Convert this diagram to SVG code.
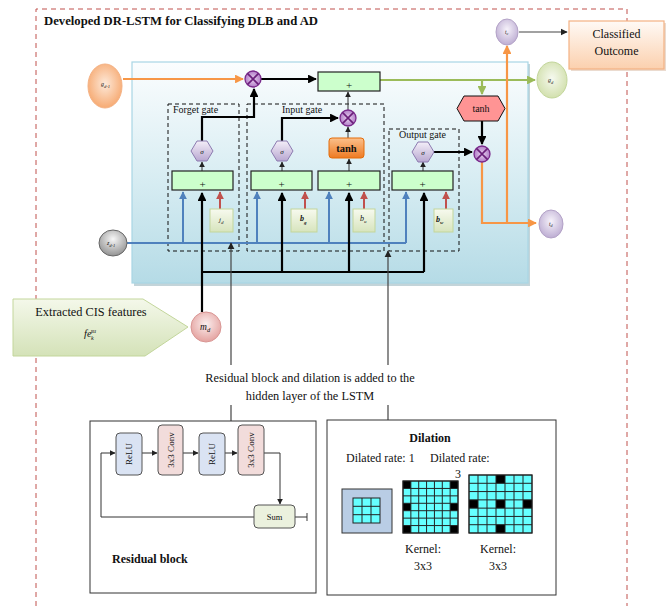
<svg xmlns="http://www.w3.org/2000/svg" xmlns:xlink="http://www.w3.org/1999/xlink" width="670" height="606" viewBox="0 0 670 606">
  <defs>
    <style>
      .t { font-family: "Liberation Serif", "Times New Roman", serif; fill: #111; }
      .b { font-weight: bold; }
      .it { font-style: italic; }
      .gate { fill: none; stroke: #111; stroke-width: 1; stroke-dasharray: 4 3; }
      .plus { fill: #ccffcc; stroke: #222; stroke-width: 1.2; }
      .bias { fill: url(#gBias); stroke: #c3d69b; stroke-width: 1; }
      .sig { fill: url(#gSig); stroke: #8c7bb0; stroke-width: 1; }
      .thick { fill: none; stroke: #000; stroke-width: 2.2; }
      .thin { fill: none; stroke: #333; stroke-width: 1; }
      .blue { fill: none; stroke: #4f81bd; stroke-width: 2; }
      .red { fill: none; stroke: #c0504d; stroke-width: 2; }
      .orange { fill: none; stroke: #f79646; stroke-width: 2.2; }
      .green { fill: none; stroke: #9bbb59; stroke-width: 2.2; }
      .gray { fill: none; stroke: #444; stroke-width: 1.2; }
      .cell { fill: #66ffff; stroke: #222; stroke-width: 1; }
    </style>
    <linearGradient id="gPanel" x1="0" y1="0" x2="0" y2="1">
      <stop offset="0" stop-color="#fbfdfe"/>
      <stop offset="0.55" stop-color="#d6ecf2"/>
      <stop offset="1" stop-color="#b5dbe6"/>
    </linearGradient>
    <linearGradient id="gBias" x1="0" y1="0" x2="0" y2="1">
      <stop offset="0" stop-color="#f7faef"/>
      <stop offset="1" stop-color="#d7e4bd"/>
    </linearGradient>
    <linearGradient id="gSig" x1="0" y1="0" x2="0" y2="1">
      <stop offset="0" stop-color="#f3eef8"/>
      <stop offset="1" stop-color="#b9a8d1"/>
    </linearGradient>
    <linearGradient id="gTanhBox" x1="0" y1="0" x2="0" y2="1">
      <stop offset="0" stop-color="#fbc08c"/>
      <stop offset="1" stop-color="#ee7a22"/>
    </linearGradient>
    <linearGradient id="gOut" x1="0" y1="0" x2="0" y2="1">
      <stop offset="0" stop-color="#fffaf6"/>
      <stop offset="1" stop-color="#fbd0ae"/>
    </linearGradient>
    <linearGradient id="gCis" x1="0" y1="0" x2="0" y2="1">
      <stop offset="0" stop-color="#f4f8ea"/>
      <stop offset="1" stop-color="#d4e2b8"/>
    </linearGradient>
    <radialGradient id="gOrange" cx="0.5" cy="0.45" r="0.6">
      <stop offset="0" stop-color="#fde9d9"/>
      <stop offset="1" stop-color="#f6a56a"/>
    </radialGradient>
    <radialGradient id="gGreen" cx="0.5" cy="0.45" r="0.6">
      <stop offset="0" stop-color="#f6f9ef"/>
      <stop offset="1" stop-color="#cfdea8"/>
    </radialGradient>
    <radialGradient id="gLav" cx="0.5" cy="0.4" r="0.65">
      <stop offset="0" stop-color="#f6f2fa"/>
      <stop offset="1" stop-color="#b8a7cf"/>
    </radialGradient>
    <radialGradient id="gGray" cx="0.5" cy="0.35" r="0.7">
      <stop offset="0" stop-color="#f7f7f7"/>
      <stop offset="1" stop-color="#8a8a8a"/>
    </radialGradient>
    <radialGradient id="gPink" cx="0.5" cy="0.4" r="0.65">
      <stop offset="0" stop-color="#fbeeee"/>
      <stop offset="1" stop-color="#e29b98"/>
    </radialGradient>
    <radialGradient id="gMul" cx="0.5" cy="0.5" r="0.6">
      <stop offset="0" stop-color="#e9d3f0"/>
      <stop offset="1" stop-color="#a66bbf"/>
    </radialGradient>
    <g id="mul">
      <circle r="8" fill="url(#gMul)" stroke="#7a2a8c" stroke-width="1.3"/>
      <path d="M-5.6,-5.6 L5.6,5.6 M5.6,-5.6 L-5.6,5.6" stroke="#6a1f7a" stroke-width="1.6"/>
    </g>
    <marker id="aK" viewBox="0 0 10 10" refX="9" refY="5" markerWidth="4" markerHeight="4" orient="auto" markerUnits="strokeWidth">
      <path d="M0,0 L10,5 L0,10 z" fill="#000"/>
    </marker>
    <marker id="aT" viewBox="0 0 10 10" refX="9" refY="5" markerWidth="6" markerHeight="6" orient="auto" markerUnits="strokeWidth">
      <path d="M0,0 L10,5 L0,10 z" fill="#222"/>
    </marker>
    <marker id="aB" viewBox="0 0 10 10" refX="9" refY="5" markerWidth="4" markerHeight="4" orient="auto" markerUnits="strokeWidth">
      <path d="M0,0 L10,5 L0,10 z" fill="#4f81bd"/>
    </marker>
    <marker id="aR" viewBox="0 0 10 10" refX="9" refY="5" markerWidth="4" markerHeight="4" orient="auto" markerUnits="strokeWidth">
      <path d="M0,0 L10,5 L0,10 z" fill="#c0504d"/>
    </marker>
    <marker id="aO" viewBox="0 0 10 10" refX="9" refY="5" markerWidth="4" markerHeight="4" orient="auto" markerUnits="strokeWidth">
      <path d="M0,0 L10,5 L0,10 z" fill="#f79646"/>
    </marker>
    <marker id="aG" viewBox="0 0 10 10" refX="9" refY="5" markerWidth="4" markerHeight="4" orient="auto" markerUnits="strokeWidth">
      <path d="M0,0 L10,5 L0,10 z" fill="#9bbb59"/>
    </marker>
    <marker id="bar" viewBox="0 0 4 10" refX="2" refY="5" markerWidth="4" markerHeight="8" orient="auto" markerUnits="userSpaceOnUse">
      <path d="M2,0 L2,10" stroke="#333" stroke-width="1.2"/>
    </marker>
  </defs>

  <rect width="670" height="606" fill="#fff"/>

  <!-- outer frame -->
  <path d="M36,606 L36,9 L627,9 L627,606" fill="none" stroke="#c0504d" stroke-width="1" stroke-dasharray="5 4"/>
  <text class="t b" x="44" y="25" font-size="12.7">Developed DR-LSTM for Classifying DLB and AD</text>

  <!-- LSTM cell panel -->
  <g id="panel">
    <rect x="134" y="64" width="396" height="222" fill="#9bb7c0" opacity="0.6"/>
    <rect x="132" y="62" width="396" height="221" fill="url(#gPanel)" stroke="#a9d6e4" stroke-width="1.2"/>
  </g>

  <!-- gate regions -->
  <g id="forget-gate">
    <rect class="gate" x="168" y="104" width="71" height="147"/>
    <text class="t" x="173" y="113" font-size="10">Forget gate</text>
  </g>
  <g id="input-gate">
    <rect class="gate" x="247" y="104" width="137" height="147"/>
    <text class="t" x="282" y="113" font-size="10">Input gate</text>
  </g>
  <g id="output-gate">
    <rect class="gate" x="389" y="129" width="70" height="122"/>
    <text class="t" x="399" y="138" font-size="10">Output gate</text>
  </g>

  <!-- connectors -->
  <g id="connectors">
    <!-- cell state path -->
    <path class="orange" d="M123,79 L243,79" marker-end="url(#aO)"/>
    <path class="thick" d="M261,79 L316,79" marker-end="url(#aK)"/>
    <path class="green" d="M380,80 L535,80" marker-end="url(#aG)"/>
    <path class="green" d="M482,80 L482,94" marker-end="url(#aG)"/>
    <path class="thick" d="M482,121 L482,144" marker-end="url(#aK)"/>
    <path class="orange" d="M482,162 L482,223 L536,223" marker-end="url(#aO)"/>
    <path class="orange" d="M507,223 L507,46" marker-end="url(#aO)"/>
    <path class="gray" d="M519,32 L567,32" marker-end="url(#aT)"/>

    <!-- gate outputs -->
    <path class="thick" d="M202,141 L202,117 L254,117 L254,89" marker-end="url(#aK)"/>
    <path class="thick" d="M282,141 L282,118 L338,118" marker-end="url(#aK)"/>
    <path class="thin" d="M348,138 L348,127" marker-end="url(#aT)"/>
    <path class="thin" d="M348,110 L348,92" marker-end="url(#aT)"/>
    <path class="thick" d="M434,152 L472,152" marker-end="url(#aK)"/>
    <path class="thin" d="M202,171 L202,162" marker-end="url(#aT)"/>
    <path class="thin" d="M282,171 L282,162" marker-end="url(#aT)"/>
    <path class="thin" d="M349,171 L349,159" marker-end="url(#aT)"/>
    <path class="thin" d="M423,171 L423,162" marker-end="url(#aT)"/>

    <!-- previous hidden state -->
    <path class="blue" d="M127,243 L406,243"/>
    <path class="blue" d="M183,243 L183,192" marker-end="url(#aB)"/>
    <path class="blue" d="M257,243 L257,192" marker-end="url(#aB)"/>
    <path class="blue" d="M329,243 L329,192" marker-end="url(#aB)"/>
    <path class="blue" d="M406,243 L406,192" marker-end="url(#aB)"/>

    <!-- biases -->
    <path class="red" d="M220,209 L220,192" marker-end="url(#aR)"/>
    <path class="red" d="M305,209 L305,192" marker-end="url(#aR)"/>
    <path class="red" d="M364,209 L364,192" marker-end="url(#aR)"/>
    <path class="red" d="M446,209 L446,192" marker-end="url(#aR)"/>

    <!-- input features bus -->
    <path class="thick" d="M202,312 L202,193" marker-end="url(#aK)"/>
    <path class="thick" d="M202,272 L424,272"/>
    <path class="thick" d="M282,272 L282,193" marker-end="url(#aK)"/>
    <path class="thick" d="M349,272 L349,193" marker-end="url(#aK)"/>
    <path class="thick" d="M424,272 L424,193" marker-end="url(#aK)"/>

    <!-- residual / dilation links -->
    <path class="gray" d="M231,365 L231,243" marker-end="url(#aT)"/>
    <path class="gray" d="M388,365 L388,251" marker-end="url(#aT)"/>
    <path class="gray" d="M231,405 L231,421"/>
    <path class="gray" d="M388,405 L388,420"/>
  </g>

  <!-- cell state multiply / add -->
  <g id="mul-forget"><use href="#mul" x="253" y="79"/></g>
  <g id="add-cell">
    <rect class="plus" x="318" y="72" width="62" height="19"/>
    <text class="t" x="349" y="89" font-size="11" text-anchor="middle">+</text>
  </g>
  <g id="mul-input"><use href="#mul" x="348" y="118"/></g>
  <g id="mul-output"><use href="#mul" x="482" y="154"/></g>

  <g id="tanh-cell">
    <polygon points="457,108.5 464,96 498,96 505,108.5 498,121 464,121" fill="#ff9494" stroke="#111" stroke-width="1"/>
    <text class="t" x="481" y="112" font-size="10" text-anchor="middle">tanh</text>
  </g>

  <!-- sigmoid units -->
  <g id="sigma-forget">
    <polygon class="sig" points="191,151 197,141 207,141 213,151 207,161 197,161"/>
    <text class="t it" x="202" y="154" font-size="7" text-anchor="middle">σ</text>
  </g>
  <g id="sigma-input">
    <polygon class="sig" points="271,151 277,141 287,141 293,151 287,161 277,161"/>
    <text class="t it" x="282" y="154" font-size="7" text-anchor="middle">σ</text>
  </g>
  <g id="sigma-output">
    <polygon class="sig" points="412,152 418,142 428,142 434,152 428,162 418,162"/>
    <text class="t it" x="423" y="155" font-size="7" text-anchor="middle">σ</text>
  </g>
  <g id="tanh-input">
    <rect x="329" y="138" width="35" height="20" rx="3" fill="url(#gTanhBox)" stroke="#e46c0a" stroke-width="1"/>
    <text class="t b" x="346.5" y="152" font-size="10.5" text-anchor="middle" fill="#3a2010">tanh</text>
  </g>

  <!-- summation boxes -->
  <g id="add-forget">
    <rect class="plus" x="172" y="171" width="61" height="19"/>
    <text class="t" x="202.5" y="188" font-size="11" text-anchor="middle">+</text>
  </g>
  <g id="add-input">
    <rect class="plus" x="251" y="171" width="61" height="19"/>
    <text class="t" x="281.5" y="188" font-size="11" text-anchor="middle">+</text>
  </g>
  <g id="add-candidate">
    <rect class="plus" x="318" y="171" width="62" height="19"/>
    <text class="t" x="349" y="188" font-size="11" text-anchor="middle">+</text>
  </g>
  <g id="add-output">
    <rect class="plus" x="392" y="171" width="61" height="19"/>
    <text class="t" x="422.5" y="188" font-size="11" text-anchor="middle">+</text>
  </g>

  <!-- biases -->
  <g id="bias-j">
    <rect class="bias" x="210" y="209" width="23" height="23"/>
    <text class="t it" x="219" y="222" font-size="7">j<tspan font-size="5" dy="1.5">d</tspan></text>
  </g>
  <g id="bias-bg">
    <rect class="bias" x="291" y="209" width="26" height="23"/>
    <text class="t it b" x="300" y="221" font-size="8">b<tspan font-size="5" dy="3">g</tspan></text>
  </g>
  <g id="bias-bu">
    <rect class="bias" x="353" y="209" width="22" height="23"/>
    <text class="t it" x="360" y="221" font-size="8">b<tspan font-size="5" dy="2">u</tspan></text>
  </g>
  <g id="bias-bw">
    <rect class="bias" x="434" y="209" width="19" height="23"/>
    <text class="t it b" x="436" y="222" font-size="8">b<tspan font-size="5" dy="1.5">w</tspan></text>
  </g>

  <!-- state nodes -->
  <g id="g-prev">
    <ellipse cx="105" cy="86" rx="17" ry="22" fill="url(#gOrange)" stroke="#f4b183" stroke-width="1"/>
    <text class="t it" x="101" y="86" font-size="6" fill="#555">g<tspan font-size="4.5" dy="1.5">d-1</tspan></text>
  </g>
  <g id="g-next">
    <ellipse cx="552" cy="80" rx="15" ry="18" fill="url(#gGreen)" stroke="#c3d69b" stroke-width="1"/>
    <text class="t it" x="548" y="82" font-size="6" fill="#555">g<tspan font-size="4.5" dy="1.5">d</tspan></text>
  </g>
  <g id="t-c">
    <ellipse cx="507" cy="32" rx="11" ry="13" fill="url(#gLav)" stroke="#b3a2c7" stroke-width="1"/>
    <text class="t it" x="505" y="34" font-size="5.5" fill="#555">t<tspan font-size="4" dy="1.2">c</tspan></text>
  </g>
  <g id="t-d">
    <ellipse cx="551" cy="224" rx="12" ry="14" fill="url(#gLav)" stroke="#b3a2c7" stroke-width="1"/>
    <text class="t it" x="549" y="226" font-size="5.5" fill="#555">t<tspan font-size="4" dy="1.2">d</tspan></text>
  </g>
  <g id="z-prev">
    <ellipse cx="113" cy="243" rx="14" ry="13" fill="url(#gGray)" stroke="#666" stroke-width="1"/>
    <text class="t it" x="107" y="245" font-size="6" fill="#333">z<tspan font-size="4.5" dy="1.5">d-1</tspan></text>
  </g>
  <g id="m-d">
    <circle cx="206" cy="327" r="15" fill="url(#gPink)" stroke="#d99694" stroke-width="1"/>
    <text class="t it" x="200" y="330" font-size="9.5" fill="#222">m<tspan font-size="6.5" dy="2">d</tspan></text>
  </g>

  <g id="classified-outcome">
    <rect x="571" y="23" width="95" height="48" fill="#d8b8a0" opacity="0.5"/>
    <rect x="569" y="21" width="95" height="48" fill="url(#gOut)" stroke="#f4b183" stroke-width="1.2"/>
    <text class="t" x="616.5" y="38" font-size="12" text-anchor="middle">Classified</text>
    <text class="t" x="616.5" y="55" font-size="12" text-anchor="middle">Outcome</text>
  </g>

  <g id="cis-features">
    <polygon points="13,299 143,299 188,327 145,356 13,356" fill="url(#gCis)" stroke="#c3d69b" stroke-width="1"/>
    <text class="t" x="91" y="316" font-size="12.3" text-anchor="middle">Extracted CIS features</text>
    <text class="t it" x="84" y="337" font-size="10.5">fe<tspan font-size="6" dy="3" dx="-0.5">k</tspan><tspan font-size="6" dy="-7" dx="-3">su</tspan></text>
  </g>

  <!-- caption -->
  <g id="caption">
    <text class="t" x="310" y="382" font-size="12.3" text-anchor="middle">Residual block and dilation is added to the</text>
    <text class="t" x="310" y="400" font-size="12.3" text-anchor="middle">hidden layer of the LSTM</text>
  </g>

  <!-- residual block -->
  <g id="residual-block">
    <rect x="90" y="421" width="226" height="172" fill="#fff" stroke="#333" stroke-width="1"/>
    <g id="res-arrows">
      <path class="thin" d="M101,453 L115,453" marker-end="url(#aT)"/>
      <path class="thin" d="M142,453 L157,453" marker-end="url(#aT)"/>
      <path class="thin" d="M183,453 L198,453" marker-end="url(#aT)"/>
      <path class="thin" d="M225,453 L237,453" marker-end="url(#aT)"/>
      <path class="thin" d="M264,453 L280,453 L280,504" marker-end="url(#aT)"/>
      <path class="thin" d="M254,517 L101,517 L101,453"/>
      <path class="thin" d="M295,517 L307,517" marker-end="url(#bar)"/>
    </g>
    <g id="relu-1">
      <rect x="116" y="433" width="26" height="42" rx="4" fill="#dae3f3" stroke="#555" stroke-width="1"/>
      <text class="t" font-size="9" text-anchor="middle" transform="translate(132,454) rotate(-90)">ReLU</text>
    </g>
    <g id="conv-1">
      <rect x="158" y="425" width="25" height="50" rx="4" fill="#f2dcdb" stroke="#555" stroke-width="1"/>
      <text class="t" font-size="9" text-anchor="middle" transform="translate(173.5,450) rotate(-90)">3x3 Conv</text>
    </g>
    <g id="relu-2">
      <rect x="199" y="433" width="26" height="42" rx="4" fill="#dae3f3" stroke="#555" stroke-width="1"/>
      <text class="t" font-size="9" text-anchor="middle" transform="translate(215,454) rotate(-90)">ReLU</text>
    </g>
    <g id="conv-2">
      <rect x="238" y="425" width="26" height="50" rx="4" fill="#f2dcdb" stroke="#555" stroke-width="1"/>
      <text class="t" font-size="9" text-anchor="middle" transform="translate(254,450) rotate(-90)">3x3 Conv</text>
    </g>
    <g id="sum">
      <rect x="254" y="505" width="41" height="23" rx="4" fill="#ebf1de" stroke="#555" stroke-width="1"/>
      <text class="t" x="274.5" y="520" font-size="8.5" text-anchor="middle">Sum</text>
    </g>
    <text class="t b" x="112" y="563" font-size="12">Residual block</text>
  </g>

  <!-- dilation -->
  <g id="dilation">
    <rect x="327" y="420" width="229" height="175" fill="#fff" stroke="#333" stroke-width="1"/>
    <text class="t b" x="430" y="442" font-size="12" text-anchor="middle">Dilation</text>
    <text class="t" x="346" y="462" font-size="12">Dilated rate: 1</text>
    <text class="t" x="430" y="462" font-size="12">Dilated rate:</text>
    <text class="t" x="455" y="478" font-size="12">3</text>

    <g id="grid-rate1">
      <rect x="342" y="489" width="50" height="44" fill="#b9cde5" stroke="#333" stroke-width="1"/>
      <rect class="cell" x="353" y="498" width="27" height="25"/>
      <path d="M362,498 V523 M371,498 V523 M353,506.3 H380 M353,514.7 H380" stroke="#222" stroke-width="1"/>
    </g>

    <g id="grid-rate2">
      <rect class="cell" x="403" y="481" width="55" height="52"/>
      <g fill="#000">
        <rect x="403" y="481" width="7.86" height="7.43"/>
        <rect x="450.14" y="481" width="7.86" height="7.43"/>
        <rect x="403" y="503.29" width="7.86" height="7.43"/>
        <rect x="450.14" y="503.29" width="7.86" height="7.43"/>
        <rect x="403" y="525.57" width="7.86" height="7.43"/>
        <rect x="450.14" y="525.57" width="7.86" height="7.43"/>
      </g>
      <path d="M410.86,481 V533 M418.71,481 V533 M426.57,481 V533 M434.43,481 V533 M442.29,481 V533 M450.14,481 V533 M403,488.43 H458 M403,495.86 H458 M403,503.29 H458 M403,510.71 H458 M403,518.14 H458 M403,525.57 H458" stroke="#222" stroke-width="1"/>
      <rect x="403" y="481" width="55" height="52" fill="none" stroke="#222" stroke-width="1"/>
    </g>

    <g id="grid-rate3">
      <rect class="cell" x="469" y="475" width="63" height="58"/>
      <g fill="#000">
        <rect x="496" y="475" width="9" height="8.29"/>
        <rect x="469" y="499.86" width="9" height="8.29"/>
        <rect x="496" y="499.86" width="9" height="8.29"/>
        <rect x="523" y="499.86" width="9" height="8.29"/>
        <rect x="496" y="524.71" width="9" height="8.29"/>
      </g>
      <path d="M478,475 V533 M487,475 V533 M496,475 V533 M505,475 V533 M514,475 V533 M523,475 V533 M469,483.29 H532 M469,491.57 H532 M469,499.86 H532 M469,508.14 H532 M469,516.43 H532 M469,524.71 H532" stroke="#222" stroke-width="1"/>
      <rect x="469" y="475" width="63" height="58" fill="none" stroke="#222" stroke-width="1"/>
    </g>

    <text class="t" x="423" y="553" font-size="12" text-anchor="middle">Kernel:</text>
    <text class="t" x="423" y="570" font-size="12" text-anchor="middle">3x3</text>
    <text class="t" x="498" y="553" font-size="12" text-anchor="middle">Kernel:</text>
    <text class="t" x="498" y="570" font-size="12" text-anchor="middle">3x3</text>
  </g>
</svg>
